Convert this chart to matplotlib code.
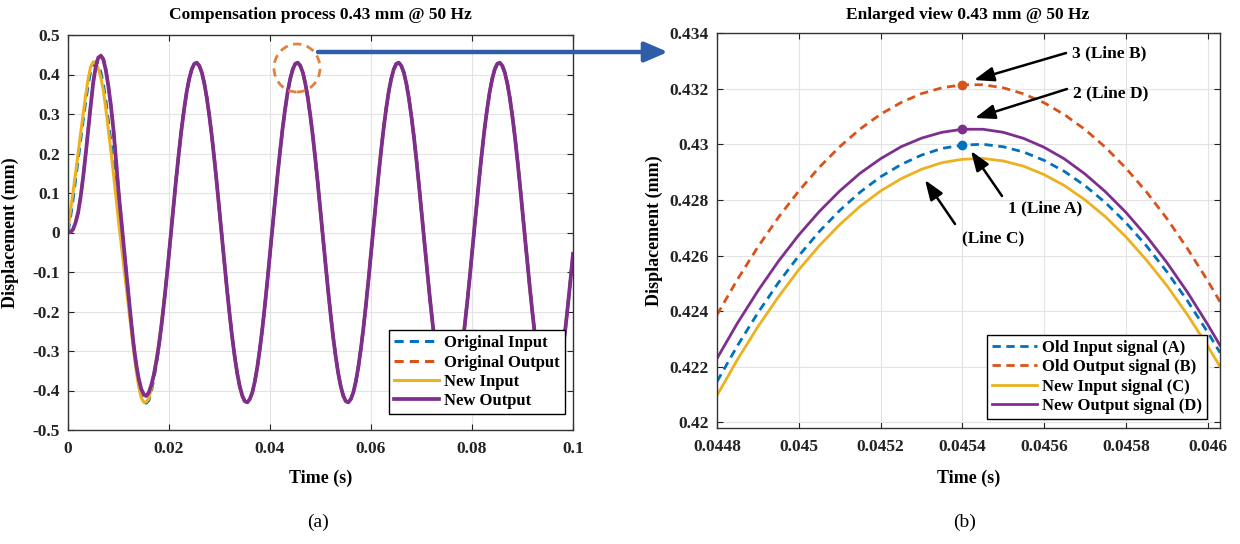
import numpy as np
import matplotlib
matplotlib.use('Agg')
import matplotlib.pyplot as plt
from matplotlib.patches import Ellipse, FancyArrowPatch
from matplotlib.ticker import FuncFormatter

plt.rcParams['font.family'] = ['Liberation Serif', 'DejaVu Serif']
plt.rcParams['font.weight'] = 'bold'
plt.rcParams['axes.labelweight'] = 'bold'
plt.rcParams['axes.unicode_minus'] = False

# --- full trace, sampled every 0.5 ms (0 .. 100 ms) ---
t_step = 0.0005
n_samples = 201

# start-up cycle (0 .. 20 ms) for each signal
orig_in_start = [0.000, 0.040, 0.085, 0.135, 0.185, 0.235, 0.285, 0.332, 0.375, 0.410,
                 0.428, 0.432, 0.425, 0.405, 0.375, 0.332, 0.280, 0.227, 0.170, 0.110,
                 0.050, -0.008, -0.065, -0.120, -0.175, -0.230, -0.285, -0.336, -0.380, -0.412,
                 -0.428, -0.432, -0.425, -0.402, -0.370, -0.333, -0.290, -0.238, -0.180, -0.118,
                 -0.054]
orig_out_start = [0.000, 0.001, 0.008, 0.026, 0.051, 0.091, 0.141, 0.199, 0.261, 0.323,
                  0.382, 0.422, 0.445, 0.449, 0.440, 0.412, 0.372, 0.322, 0.262, 0.187,
                  0.106, 0.038, -0.030, -0.096, -0.161, -0.226, -0.286, -0.335, -0.372, -0.398,
                  -0.412, -0.416, -0.407, -0.388, -0.361, -0.327, -0.286, -0.237, -0.181, -0.120,
                  -0.054]
new_in_start = [0.008, 0.055, 0.100, 0.150, 0.200, 0.250, 0.300, 0.347, 0.390, 0.420,
                0.432, 0.428, 0.415, 0.392, 0.360, 0.313, 0.260, 0.206, 0.150, 0.090,
                0.030, -0.025, -0.080, -0.135, -0.190, -0.245, -0.300, -0.350, -0.390, -0.418,
                -0.430, -0.429, -0.420, -0.395, -0.360, -0.322, -0.280, -0.230, -0.175, -0.116,
                -0.054]
new_out_start = [0.000, 0.001, 0.008, 0.025, 0.050, 0.090, 0.140, 0.198, 0.260, 0.322,
                 0.380, 0.420, 0.443, 0.447, 0.438, 0.410, 0.370, 0.320, 0.260, 0.185,
                 0.105, 0.038, -0.030, -0.095, -0.160, -0.225, -0.285, -0.333, -0.370, -0.396,
                 -0.410, -0.414, -0.405, -0.386, -0.360, -0.326, -0.285, -0.236, -0.180, -0.119,
                 -0.054]

# settled part (20.5 .. 100 ms), all four signals lie on top of each other here
settled_tail = [
    0.014, 0.081, 0.146, 0.207, 0.264, 0.313, 0.356, 0.389, 0.413, 0.427,
    0.430, 0.422, 0.405, 0.377, 0.340, 0.294, 0.242, 0.183, 0.120, 0.054,
    -0.014, -0.081, -0.146, -0.207, -0.264, -0.313, -0.356, -0.389, -0.413, -0.427,
    -0.430, -0.422, -0.405, -0.377, -0.340, -0.294, -0.242, -0.183, -0.120, -0.054,
    0.014, 0.081, 0.146, 0.207, 0.264, 0.313, 0.356, 0.389, 0.413, 0.427,
    0.430, 0.422, 0.405, 0.377, 0.340, 0.294, 0.242, 0.183, 0.120, 0.054,
    -0.014, -0.081, -0.146, -0.207, -0.264, -0.313, -0.356, -0.389, -0.413, -0.427,
    -0.430, -0.422, -0.405, -0.377, -0.340, -0.294, -0.242, -0.183, -0.120, -0.054,
    0.014, 0.081, 0.146, 0.207, 0.264, 0.313, 0.356, 0.389, 0.413, 0.427,
    0.430, 0.422, 0.405, 0.377, 0.340, 0.294, 0.242, 0.183, 0.120, 0.054,
    -0.014, -0.081, -0.146, -0.207, -0.264, -0.313, -0.356, -0.389, -0.413, -0.427,
    -0.430, -0.422, -0.405, -0.377, -0.340, -0.294, -0.242, -0.183, -0.120, -0.054,
    0.014, 0.081, 0.146, 0.207, 0.264, 0.313, 0.356, 0.389, 0.413, 0.427,
    0.430, 0.422, 0.405, 0.377, 0.340, 0.294, 0.242, 0.183, 0.120, 0.054,
    -0.014, -0.081, -0.146, -0.207, -0.264, -0.313, -0.356, -0.389, -0.413, -0.427,
    -0.430, -0.422, -0.405, -0.377, -0.340, -0.294, -0.242, -0.183, -0.120, -0.054,
]

# --- enlarged window around the peak at 45.4 ms, sampled every 0.05 ms ---
t_zoom = [0.0448, 0.04485, 0.0449, 0.04495, 0.0450, 0.04505, 0.0451, 0.04515, 0.0452,
          0.04525, 0.0453, 0.04535, 0.0454, 0.04545, 0.0455, 0.04555, 0.0456, 0.04565,
          0.0457, 0.04575, 0.0458, 0.04585, 0.0459, 0.04595, 0.0460, 0.04603]
old_in_zoom = [0.42147, 0.42276, 0.42394, 0.42502, 0.42599, 0.42686, 0.42762, 0.42828, 0.42883,
               0.42927, 0.42961, 0.42985, 0.42997, 0.43000, 0.42991, 0.42972, 0.42942, 0.42902,
               0.42851, 0.42790, 0.42718, 0.42635, 0.42542, 0.42438, 0.42324, 0.42251]
old_out_zoom = [0.42387, 0.42514, 0.42631, 0.42737, 0.42832, 0.42917, 0.42991, 0.43055, 0.43108,
                0.43150, 0.43182, 0.43203, 0.43214, 0.43214, 0.43203, 0.43181, 0.43149, 0.43106,
                0.43053, 0.42989, 0.42914, 0.42829, 0.42733, 0.42626, 0.42509, 0.42434]
new_in_zoom = [0.42097, 0.42226, 0.42344, 0.42451, 0.42549, 0.42635, 0.42711, 0.42777, 0.42832,
               0.42876, 0.42910, 0.42934, 0.42946, 0.42949, 0.42940, 0.42921, 0.42891, 0.42851,
               0.42800, 0.42739, 0.42667, 0.42584, 0.42492, 0.42388, 0.42274, 0.42201]
new_out_zoom = [0.42230, 0.42357, 0.42473, 0.42579, 0.42674, 0.42758, 0.42832, 0.42896, 0.42948,
                0.42991, 0.43022, 0.43043, 0.43054, 0.43054, 0.43043, 0.43021, 0.42989, 0.42947,
                0.42893, 0.42829, 0.42755, 0.42670, 0.42575, 0.42469, 0.42352, 0.42277]
t_marked = 0.0454

left_xticks = [0, 0.02, 0.04, 0.06, 0.08, 0.1]
left_yticks = [-0.5, -0.4, -0.3, -0.2, -0.1, 0, 0.1, 0.2, 0.3, 0.4, 0.5]
right_xticks = [0.0448, 0.045, 0.0452, 0.0454, 0.0456, 0.0458, 0.046]
right_yticks = [0.42, 0.422, 0.424, 0.426, 0.428, 0.43, 0.432, 0.434]

C_IN = '#0072BD'
C_OUT = '#D95319'
C_NIN = '#EDB120'
C_NOUT = '#7E2F8E'
DASH = (0, (3, 2))

W, H = 1240, 544


def fx(px):
    return px / W


def fy(py):
    return 1 - py / H


def fmt(v, _pos=None):
    v = round(v, 6)
    return '0' if abs(v) < 1e-12 else f'{v:g}'


def style_axes(ax):
    ax.grid(True, color='#E3E3E3', lw=0.8)
    ax.set_axisbelow(True)
    ax.tick_params(direction='in', top=True, right=True, length=4, width=0.8,
                   labelsize=12.5, colors='#222222')
    ax.tick_params(axis='x', pad=8)
    ax.tick_params(axis='y', pad=6)
    for sp in ax.spines.values():
        sp.set_linewidth(1.0)
        sp.set_color('#333333')
    ax.xaxis.set_major_formatter(FuncFormatter(fmt))
    ax.yaxis.set_major_formatter(FuncFormatter(fmt))


def add_legend(ax, anchor):
    leg = ax.legend(loc='lower right', bbox_to_anchor=anchor, borderaxespad=0,
                    fancybox=False, edgecolor='black', framealpha=1, fontsize=12,
                    handlelength=2.7, handletextpad=0.3, labelspacing=0.2, borderpad=0.3)
    leg.get_frame().set_linewidth(1.0)


fig = plt.figure(figsize=(W / 100, H / 100), dpi=100)
ax1 = fig.add_axes([fx(68), fy(430), fx(573) - fx(68), fy(35) - fy(430)])
ax2 = fig.add_axes([fx(717), fy(428), fx(1220) - fx(717), fy(33) - fy(428)])

# ---- (a) full compensation process ----
t = np.arange(n_samples) * t_step
ax1.plot(t, orig_in_start + settled_tail, color=C_IN, ls=DASH, lw=2.2, label='Original Input')
ax1.plot(t, orig_out_start + settled_tail, color=C_OUT, ls=DASH, lw=2.2, label='Original Output')
ax1.plot(t, new_in_start + settled_tail, color=C_NIN, lw=2.2, label='New Input')
ax1.plot(t, new_out_start + settled_tail, color=C_NOUT, lw=2.7, label='New Output')
ax1.set_xlim(0, 0.1)
ax1.set_ylim(-0.5, 0.5)
ax1.set_xticks(left_xticks)
ax1.set_yticks(left_yticks)
style_axes(ax1)
ax1.set_xlabel('Time (s)', fontsize=13)
ax1.set_ylabel('Displacement (mm)', fontsize=13)
ax1.xaxis.set_label_coords(0.5, -0.10)
ax1.yaxis.set_label_coords(-0.098, 0.5)
add_legend(ax1, (0.984, 0.04))

# ---- (b) enlarged view of one peak ----
ax2.plot(t_zoom, old_in_zoom, color=C_IN, ls=DASH, lw=2.0, label='Old Input signal (A)')
ax2.plot(t_zoom, old_out_zoom, color=C_OUT, ls=DASH, lw=2.0, label='Old Output signal (B)')
ax2.plot(t_zoom, new_in_zoom, color=C_NIN, lw=2.0, label='New Input signal (C)')
ax2.plot(t_zoom, new_out_zoom, color=C_NOUT, lw=2.0, label='New Output signal (D)')
i_mark = t_zoom.index(t_marked)
for vals, col in [(old_in_zoom, C_IN), (old_out_zoom, C_OUT), (new_out_zoom, C_NOUT)]:
    ax2.plot(t_zoom[i_mark], vals[i_mark], 'o', color=col, ms=6, zorder=5)
ax2.set_xlim(0.0448, 0.04603)
ax2.set_ylim(0.4198, 0.434)
ax2.set_xticks(right_xticks)
ax2.set_yticks(right_yticks)
style_axes(ax2)
ax2.set_xlabel('Time (s)', fontsize=13)
ax2.set_ylabel('Displacement (mm)', fontsize=13)
ax2.xaxis.set_label_coords(0.5, -0.106)
ax2.yaxis.set_label_coords(-0.108, 0.5)
add_legend(ax2, (0.974, 0.023))

# callouts pointing at the peaks
callouts = [
    ('3 (Line B)', (1072, 53), (1066, 53), (974, 80)),
    ('2 (Line D)', (1073, 93), (1067, 89), (975, 118)),
    ('1 (Line A)', (1008, 208), (1002, 196), (971, 151)),
    ('(Line C)', (962, 238), (955, 224), (925, 180)),
]
for label, txt_pos, tail, head in callouts:
    fig.text(fx(txt_pos[0]), fy(txt_pos[1]), label, ha='left', va='center', fontsize=12.5)
    fig.add_artist(FancyArrowPatch((fx(tail[0]), fy(tail[1])), (fx(head[0]), fy(head[1])),
                                   transform=fig.transFigure, color='black', lw=1.8,
                                   arrowstyle='-|>,head_length=0.6,head_width=0.22',
                                   mutation_scale=20, shrinkA=0, shrinkB=0))

# titles and panel tags
fig.text(fx(320), fy(15), 'Compensation process 0.43 mm @ 50 Hz', ha='center', va='center', fontsize=12.5)
fig.text(fx(968), fy(15), 'Enlarged view 0.43 mm @ 50 Hz', ha='center', va='center', fontsize=12.5)
fig.text(fx(318), fy(522), '(a)', ha='center', va='center', fontsize=14, fontweight='normal')
fig.text(fx(965), fy(522), '(b)', ha='center', va='center', fontsize=14, fontweight='normal')

# marker circle on the left panel and link arrow to the enlarged view
fig.add_artist(Ellipse((fx(297), fy(68)), 46 / W, 48 / H, transform=fig.transFigure,
                       fill=False, ls=(0, (3, 2)), lw=2.0, color='#E2803E'))
fig.add_artist(FancyArrowPatch((fx(318), fy(52)), (fx(668), fy(52)),
                               transform=fig.transFigure, color='#2F5EA8', lw=3.2,
                               arrowstyle='-|>,head_length=0.7,head_width=0.3',
                               mutation_scale=20, shrinkA=0, shrinkB=0))

fig.savefig('out.png', dpi=100)
